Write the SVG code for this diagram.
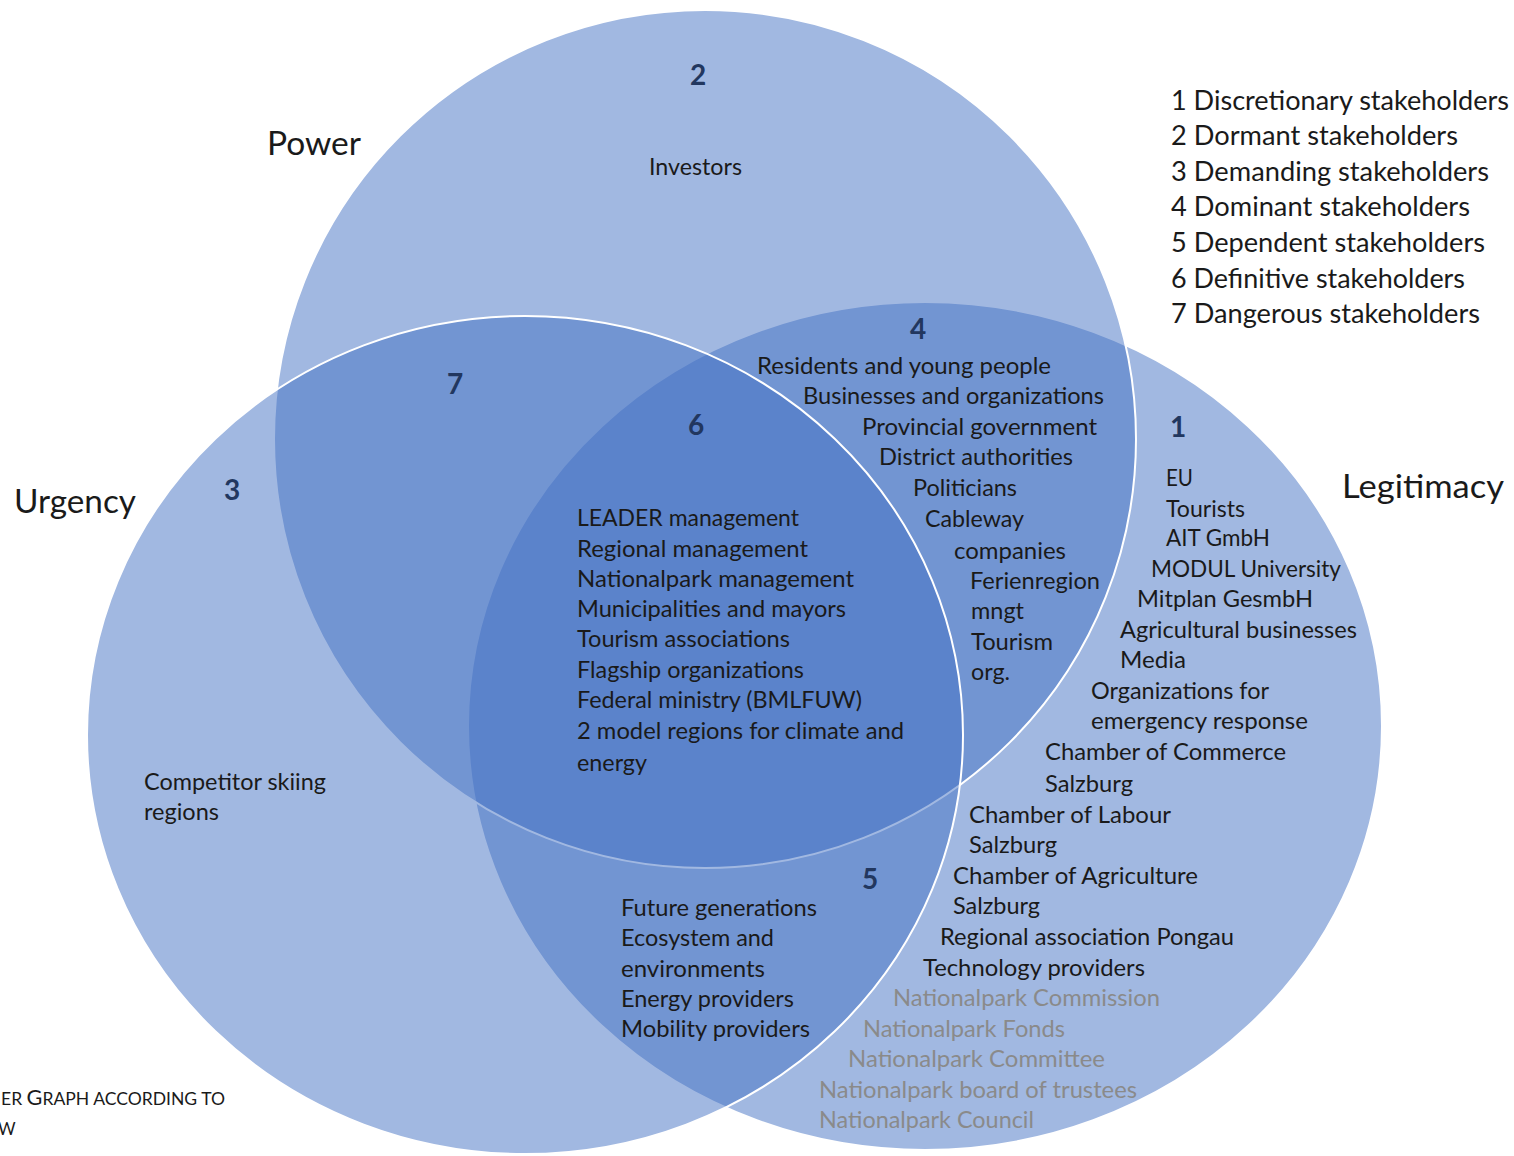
<svg xmlns="http://www.w3.org/2000/svg" width="1514" height="1156" viewBox="0 0 1514 1156">
<style>
.c{fill:#4472C4;fill-opacity:.5;stroke:#fff;stroke-width:2}
text{font-family:Lato,"Liberation Sans",sans-serif}
.t{font-size:23px;fill:#1a1a1a}
.g{font-size:23px;fill:#8a8a8a}
.n{font-size:28px;font-weight:bold;fill:#22375f;text-anchor:middle}
.l{font-size:33px;fill:#1a1a1a}
.lg{font-size:26px;fill:#1a1a1a}
.cap{font-size:17px;fill:#1a1a1a}
</style>
<rect width="1514" height="1156" fill="#fff"/>
<g id="circle-legitimacy"><ellipse class="c" cx="925" cy="726" rx="457" ry="424"/></g>
<g id="circle-power"><ellipse class="c" cx="705" cy="439" rx="431" ry="429"/></g>
<g id="circle-urgency"><ellipse class="c" cx="525" cy="735" rx="438" ry="419"/></g>

<g id="labels">
<text class="l" x="267" y="155" textLength="94" lengthAdjust="spacingAndGlyphs">Power</text>
<text class="l" x="14" y="513" textLength="122" lengthAdjust="spacingAndGlyphs">Urgency</text>
<text class="l" x="1342" y="498" textLength="162" lengthAdjust="spacingAndGlyphs">Legitimacy</text>
</g>

<g id="numbers">
<text class="n" x="698" y="85">2</text>
<text class="n" x="455" y="394">7</text>
<text class="n" x="696" y="435">6</text>
<text class="n" x="232" y="500">3</text>
<text class="n" x="918" y="339">4</text>
<text class="n" x="1178" y="437">1</text>
<text class="n" x="870" y="889">5</text>
</g>

<g id="legend">
<text class="lg" x="1171" y="110" textLength="338" lengthAdjust="spacingAndGlyphs">1 Discretionary stakeholders</text>
<text class="lg" x="1171" y="145" textLength="287" lengthAdjust="spacingAndGlyphs">2 Dormant stakeholders</text>
<text class="lg" x="1171" y="181" textLength="318" lengthAdjust="spacingAndGlyphs">3 Demanding stakeholders</text>
<text class="lg" x="1171" y="216" textLength="299" lengthAdjust="spacingAndGlyphs">4 Dominant stakeholders</text>
<text class="lg" x="1171" y="252" textLength="314" lengthAdjust="spacingAndGlyphs">5 Dependent stakeholders</text>
<text class="lg" x="1171" y="288" textLength="294" lengthAdjust="spacingAndGlyphs">6 Definitive stakeholders</text>
<text class="lg" x="1171" y="323" textLength="309" lengthAdjust="spacingAndGlyphs">7 Dangerous stakeholders</text>
</g>

<g id="region-2">
<text class="t" x="649" y="175" textLength="93" lengthAdjust="spacingAndGlyphs">Investors</text>
</g>

<g id="region-3">
<text class="t" x="144" y="790" textLength="182" lengthAdjust="spacingAndGlyphs">Competitor skiing</text>
<text class="t" x="144" y="820" textLength="75" lengthAdjust="spacingAndGlyphs">regions</text>
</g>

<g id="region-4">
<text class="t" x="757" y="374" textLength="294" lengthAdjust="spacingAndGlyphs">Residents and young people</text>
<text class="t" x="803" y="404" textLength="301" lengthAdjust="spacingAndGlyphs">Businesses and organizations</text>
<text class="t" x="862" y="435" textLength="235" lengthAdjust="spacingAndGlyphs">Provincial government</text>
<text class="t" x="879" y="465" textLength="194" lengthAdjust="spacingAndGlyphs">District authorities</text>
<text class="t" x="913" y="496" textLength="104" lengthAdjust="spacingAndGlyphs">Politicians</text>
<text class="t" x="925" y="527" textLength="99" lengthAdjust="spacingAndGlyphs">Cableway</text>
<text class="t" x="954" y="559" textLength="112" lengthAdjust="spacingAndGlyphs">companies</text>
<text class="t" x="970" y="589" textLength="130" lengthAdjust="spacingAndGlyphs">Ferienregion</text>
<text class="t" x="971" y="619" textLength="53" lengthAdjust="spacingAndGlyphs">mngt</text>
<text class="t" x="971" y="650" textLength="82" lengthAdjust="spacingAndGlyphs">Tourism</text>
<text class="t" x="971" y="680" textLength="39" lengthAdjust="spacingAndGlyphs">org.</text>
</g>

<g id="region-6">
<text class="t" x="577" y="526" textLength="222" lengthAdjust="spacingAndGlyphs">LEADER management</text>
<text class="t" x="577" y="557" textLength="231" lengthAdjust="spacingAndGlyphs">Regional management</text>
<text class="t" x="577" y="587" textLength="277" lengthAdjust="spacingAndGlyphs">Nationalpark management</text>
<text class="t" x="577" y="617" textLength="269" lengthAdjust="spacingAndGlyphs">Municipalities and mayors</text>
<text class="t" x="577" y="647" textLength="213" lengthAdjust="spacingAndGlyphs">Tourism associations</text>
<text class="t" x="577" y="678" textLength="227" lengthAdjust="spacingAndGlyphs">Flagship organizations</text>
<text class="t" x="577" y="708" textLength="285" lengthAdjust="spacingAndGlyphs">Federal ministry (BMLFUW)</text>
<text class="t" x="577" y="739" textLength="327" lengthAdjust="spacingAndGlyphs">2 model regions for climate and</text>
<text class="t" x="577" y="771" textLength="70" lengthAdjust="spacingAndGlyphs">energy</text>
</g>

<g id="region-5">
<text class="t" x="621" y="916" textLength="196" lengthAdjust="spacingAndGlyphs">Future generations</text>
<text class="t" x="621" y="946" textLength="153" lengthAdjust="spacingAndGlyphs">Ecosystem and</text>
<text class="t" x="621" y="977" textLength="144" lengthAdjust="spacingAndGlyphs">environments</text>
<text class="t" x="621" y="1007" textLength="173" lengthAdjust="spacingAndGlyphs">Energy providers</text>
<text class="t" x="621" y="1037" textLength="189" lengthAdjust="spacingAndGlyphs">Mobility providers</text>
</g>

<g id="region-1">
<text class="t" x="1166" y="486" textLength="27" lengthAdjust="spacingAndGlyphs">EU</text>
<text class="t" x="1166" y="517" textLength="79" lengthAdjust="spacingAndGlyphs">Tourists</text>
<text class="t" x="1166" y="546" textLength="104" lengthAdjust="spacingAndGlyphs">AIT GmbH</text>
<text class="t" x="1151" y="577" textLength="190" lengthAdjust="spacingAndGlyphs">MODUL University</text>
<text class="t" x="1137" y="607" textLength="176" lengthAdjust="spacingAndGlyphs">Mitplan GesmbH</text>
<text class="t" x="1120" y="638" textLength="237" lengthAdjust="spacingAndGlyphs">Agricultural businesses</text>
<text class="t" x="1120" y="668" textLength="66" lengthAdjust="spacingAndGlyphs">Media</text>
<text class="t" x="1091" y="699" textLength="178" lengthAdjust="spacingAndGlyphs">Organizations for</text>
<text class="t" x="1091" y="729" textLength="217" lengthAdjust="spacingAndGlyphs">emergency response</text>
<text class="t" x="1045" y="760" textLength="241" lengthAdjust="spacingAndGlyphs">Chamber of Commerce</text>
<text class="t" x="1045" y="792" textLength="88" lengthAdjust="spacingAndGlyphs">Salzburg</text>
<text class="t" x="969" y="823" textLength="202" lengthAdjust="spacingAndGlyphs">Chamber of Labour</text>
<text class="t" x="969" y="853" textLength="88" lengthAdjust="spacingAndGlyphs">Salzburg</text>
<text class="t" x="953" y="884" textLength="245" lengthAdjust="spacingAndGlyphs">Chamber of Agriculture</text>
<text class="t" x="953" y="914" textLength="87" lengthAdjust="spacingAndGlyphs">Salzburg</text>
<text class="t" x="940" y="945" textLength="294" lengthAdjust="spacingAndGlyphs">Regional association Pongau</text>
<text class="t" x="923" y="976" textLength="222" lengthAdjust="spacingAndGlyphs">Technology providers</text>
<text class="g" x="893" y="1006" textLength="267" lengthAdjust="spacingAndGlyphs">Nationalpark Commission</text>
<text class="g" x="863" y="1037" textLength="202" lengthAdjust="spacingAndGlyphs">Nationalpark Fonds</text>
<text class="g" x="848" y="1067" textLength="257" lengthAdjust="spacingAndGlyphs">Nationalpark Committee</text>
<text class="g" x="819" y="1098" textLength="318" lengthAdjust="spacingAndGlyphs">Nationalpark board of trustees</text>
<text class="g" x="819" y="1128" textLength="215" lengthAdjust="spacingAndGlyphs">Nationalpark Council</text>
</g>

<g id="caption">
<text class="cap" x="1" y="1105" textLength="224" lengthAdjust="spacingAndGlyphs">ER <tspan font-size="21">G</tspan>RAPH ACCORDING TO</text>
<text class="cap" x="-2" y="1135">W</text>
</g>
</svg>
